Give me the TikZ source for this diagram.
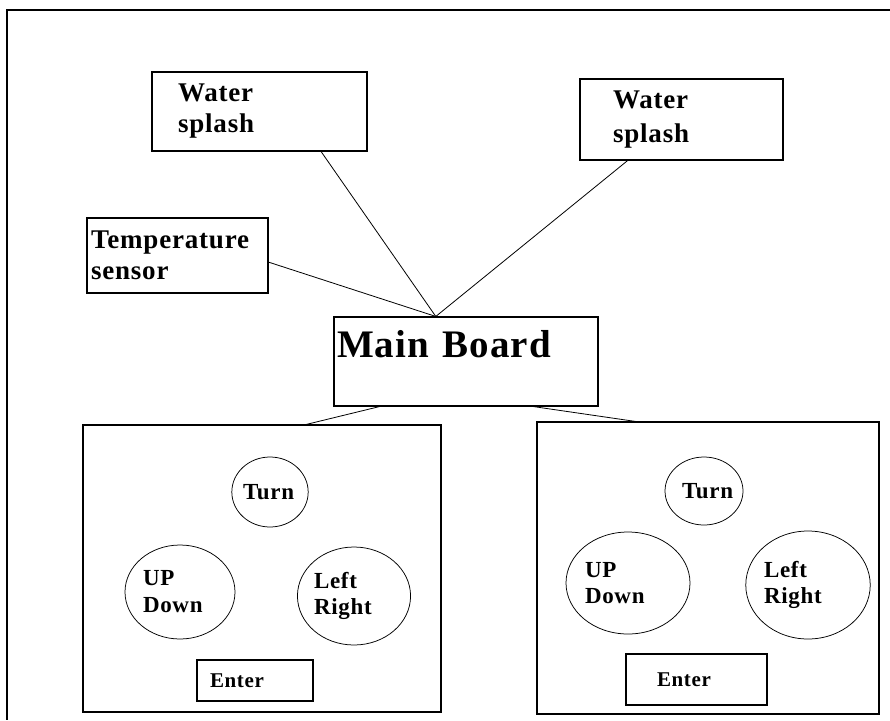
\documentclass[tikz,border=0pt]{standalone}
\usepackage{fontspec}
\setmainfont[LetterSpace=3]{Liberation Serif}
\usetikzlibrary{shapes.geometric,calc}

\tikzset{every picture/.style={line width=0.75pt}}
\tikzset{
  box/.style={draw, rectangle, line width=1.1pt, inner ysep=0pt, align=left},
  pad/.style={draw, ellipse, inner sep=0pt, align=left, font=\bfseries\fontsize{23}{26}\selectfont},
  wire/.style={line width=0.8pt},
  bigfont/.style={font=\bfseries\fontsize{27}{31}\selectfont},
}

\begin{document}
\begin{tikzpicture}[x=1pt,y=1pt,yscale=-1,xscale=1]
        \useasboundingbox (0,0) rectangle (890,720);

        %Frame
        \draw [line width=1.1pt]  (890,10) -- (7,10) -- (7,720) ;

        %Shape: Rectangle [sensors]
        \node [box, bigfont, minimum width=215, minimum height=79, inner xsep=26, text width=163] (wsl) at (259.5,111.5) {Water\\splash};
        \node [box, font=\bfseries\fontsize{27}{34}\selectfont, minimum width=203, minimum height=81, inner xsep=33, text width=137] (wsr) at (681.5,119.5) {Water\\splash};
        \node [box, bigfont, minimum width=181, minimum height=75, inner xsep=4, text width=173] (temp) at (177.5,255.5) {Temperature\\sensor};

        %Shape: Rectangle [main board]
        \node [box, font=\bfseries\fontsize{39}{44}\selectfont, minimum width=264, inner xsep=3, text width=258, text height=40, text depth=49] (main) at (466,361.5) {Main Board};

        %Shape: Rectangle [panels]
        \node [box, minimum width=358, minimum height=287] (panl) at (262,568.5) {};
        \node [box, minimum width=342, minimum height=292] (panr) at (708,568) {};

        %Shape: Ellipse [left panel]
        \node [pad, minimum width=76, minimum height=70, text width=54] (turnl) at (270,492) {Turn};
        \node [pad, minimum width=110, minimum height=94, text width=74, font=\bfseries\fontsize{23}{27}\selectfont] (udl) at (180,592) {UP\\Down};
        \node [pad, minimum width=112, minimum height=98, text width=80] (lrl) at (354,596) {Left\\Right};
        %Shape: Ellipse [right panel]
        \node [pad, minimum width=78, minimum height=68, text width=44] (turnr) at (704,491) {Turn};
        \node [pad, minimum width=124, minimum height=102, text width=86] (udr) at (628,583) {UP\\Down};
        \node [pad, minimum width=124, minimum height=108, text width=88] (lrr) at (808,585) {Left\\Right};

        %Shape: Rectangle [enter keys]
        \node [box, font=\bfseries\fontsize{21}{24}\selectfont, minimum width=116, minimum height=41, inner xsep=13, text width=90] (entl) at (255,680.5) {Enter};
        \node [box, font=\bfseries\fontsize{21}{24}\selectfont, minimum width=141, minimum height=51, inner xsep=31, text width=79] (entr) at (696.5,679.5) {Enter};

        %Straight Lines
        \draw [wire]  ($(main.north west)!0.386!(main.north east)$) -- ($(temp.north east)!0.587!(temp.south east)$) ;
        \draw [wire]  ($(main.north west)!0.386!(main.north east)$) -- ($(wsl.south west)!0.785!(wsl.south east)$) ;
        \draw [wire]  ($(main.north west)!0.386!(main.north east)$) -- ($(wsr.south west)!0.236!(wsr.south east)$) ;
        \draw [wire]  ($(main.south west)!0.174!(main.south east)$) -- ($(panl.north west)!0.623!(panl.north east)$) ;
        \draw [wire]  ($(main.south west)!0.754!(main.south east)$) -- ($(panr.north west)!0.289!(panr.north east)$) ;

\end{tikzpicture}
\end{document}
